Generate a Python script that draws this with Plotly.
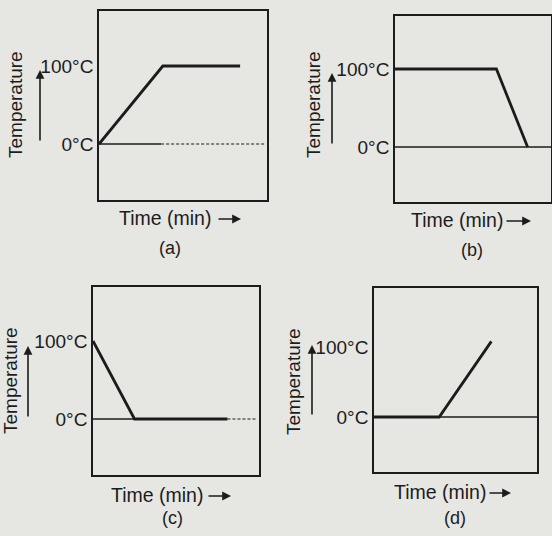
import plotly.graph_objects as go

# ---------------- data (time in arbitrary minutes, temperature in °C) ----------------
panel_labels = ["(a)", "(b)", "(c)", "(d)"]
tick_vals = [0, 100]
tick_text = ["0°C", "100°C"]

time_a = [0, 3.8, 8.4]
temp_a = [0, 100, 100]
time_b = [0, 6.5, 8.5]
temp_b = [100, 100, 0]
time_c = [0, 2.5, 8.1]
temp_c = [100, 0, 0]
time_d = [0, 4.0, 7.2]
temp_d = [0, 0, 108]

# reference (0 °C) line pieces: solid part, dashed part
base_solid = [[0, 3.7], [0, 10], [0, 2.5], [0, 10]]
base_dash = [[3.7, 9.9], None, [8.1, 9.8], None]

curves = [(time_a, temp_a), (time_b, temp_b), (time_c, temp_c), (time_d, temp_d)]

# ---------------- layout (pixel geometry of the 552x536 page) ----------------
W, H = 552, 536
# box left, top, right, bottom, y of 0°C, y of 100°C
boxes = [
    (99, 11, 267, 200, 144, 66),
    (395, 16, 551, 202, 147, 69),
    (93, 287, 259, 475, 419, 341),
    (374, 288, 537, 472, 417, 347),
]
texts = [
    dict(tx=15, ty=105, ax=40, ay0=142, ay1=70, mx=165, my=218, rx0=217, rx1=241, lx=170, ly=248),
    dict(tx=313, ty=105, ax=332, ay0=145, ay1=73, mx=457, my=220, rx0=505, rx1=531, lx=472, ly=250),
    dict(tx=10, ty=381, ax=28, ay0=418, ay1=346, mx=157, my=495, rx0=207, rx1=231, lx=172, ly=518),
    dict(tx=293, ty=382, ax=312, ay0=416, ay1=345, mx=440, my=492, rx0=488, rx1=511, lx=455, ly=518),
]

BG = "#e6e6e3"
INK = "#1c1c1c"
FONT = "Liberation Sans, Arial, sans-serif"

fig = go.Figure()
annotations = []

def px2x(p):
    return p / W

def px2y(p):
    return 1 - p / H

for i, (L, T, R, B, y0, y100) in enumerate(boxes):
    n = "" if i == 0 else str(i + 1)
    xa, ya = "x" + n, "y" + n
    scale = (y0 - y100) / 100.0
    ymin = -(B - y0) / scale
    ymax = (y0 - T) / scale

    s = base_solid[i]
    fig.add_trace(go.Scatter(x=s, y=[0, 0], mode="lines", line=dict(color=INK, width=1.3),
                             xaxis=xa, yaxis=ya, showlegend=False, hoverinfo="skip"))
    d = base_dash[i]
    if d is not None:
        fig.add_trace(go.Scatter(x=d, y=[0, 0], mode="lines",
                                 line=dict(color=INK, width=1.2, dash="3px,2px"),
                                 xaxis=xa, yaxis=ya, showlegend=False, hoverinfo="skip"))
    tx, ty = curves[i]
    fig.add_trace(go.Scatter(x=tx, y=ty, mode="lines", line=dict(color=INK, width=2.8),
                             xaxis=xa, yaxis=ya, showlegend=False, hoverinfo="skip"))

    axis_common = dict(showline=True, mirror=True, linecolor=INK, linewidth=1.6,
                       showgrid=False, zeroline=False, fixedrange=True)
    fig.update_layout(**{
        ("xaxis" + n): dict(domain=[px2x(L), px2x(R)], range=[0, 10], showticklabels=False,
                            ticks="", anchor=ya, **axis_common),
        ("yaxis" + n): dict(domain=[px2y(B), px2y(T)], range=[ymin, ymax], tickvals=tick_vals,
                            ticktext=tick_text, ticks="", anchor=xa,
                            tickfont=dict(family=FONT, size=19, color=INK),
                            ticklabelstandoff=0, **axis_common),
    })

    t = texts[i]
    annotations += [
        dict(text="Temperature", x=px2x(t["tx"]), y=px2y(t["ty"]), xref="paper", yref="paper",
             textangle=-90, showarrow=False, font=dict(family=FONT, size=19, color=INK),
             xanchor="center", yanchor="middle"),
        dict(text="", x=px2x(t["ax"]), y=px2y(t["ay1"]), xref="paper", yref="paper",
             showarrow=True, ax=0, ay=t["ay0"] - t["ay1"], arrowhead=2, arrowsize=1.1,
             arrowwidth=1.6, arrowcolor=INK, standoff=0, startstandoff=0),
        dict(text="Time (min)", x=px2x(t["mx"]), y=px2y(t["my"]), xref="paper", yref="paper",
             showarrow=False, font=dict(family=FONT, size=19.5, color=INK),
             xanchor="center", yanchor="middle"),
        dict(text="", x=px2x(t["rx1"]), y=px2y(t["my"] + 1), xref="paper", yref="paper",
             showarrow=True, ax=-(t["rx1"] - t["rx0"]), ay=0, arrowhead=2, arrowsize=1.1,
             arrowwidth=1.6, arrowcolor=INK, standoff=0, startstandoff=0),
        dict(text=panel_labels[i], x=px2x(t["lx"]), y=px2y(t["ly"]), xref="paper", yref="paper",
             showarrow=False, font=dict(family=FONT, size=18, color=INK),
             xanchor="center", yanchor="middle"),
    ]

fig.update_layout(width=W, height=H, margin=dict(l=0, r=0, t=0, b=0),
                  paper_bgcolor=BG, plot_bgcolor=BG, annotations=annotations,
                  showlegend=False)

fig.write_html("out.html", config={"displayModeBar": False},
               post_script="document.body.style.margin='0';document.body.style.background='%s';" % BG)
